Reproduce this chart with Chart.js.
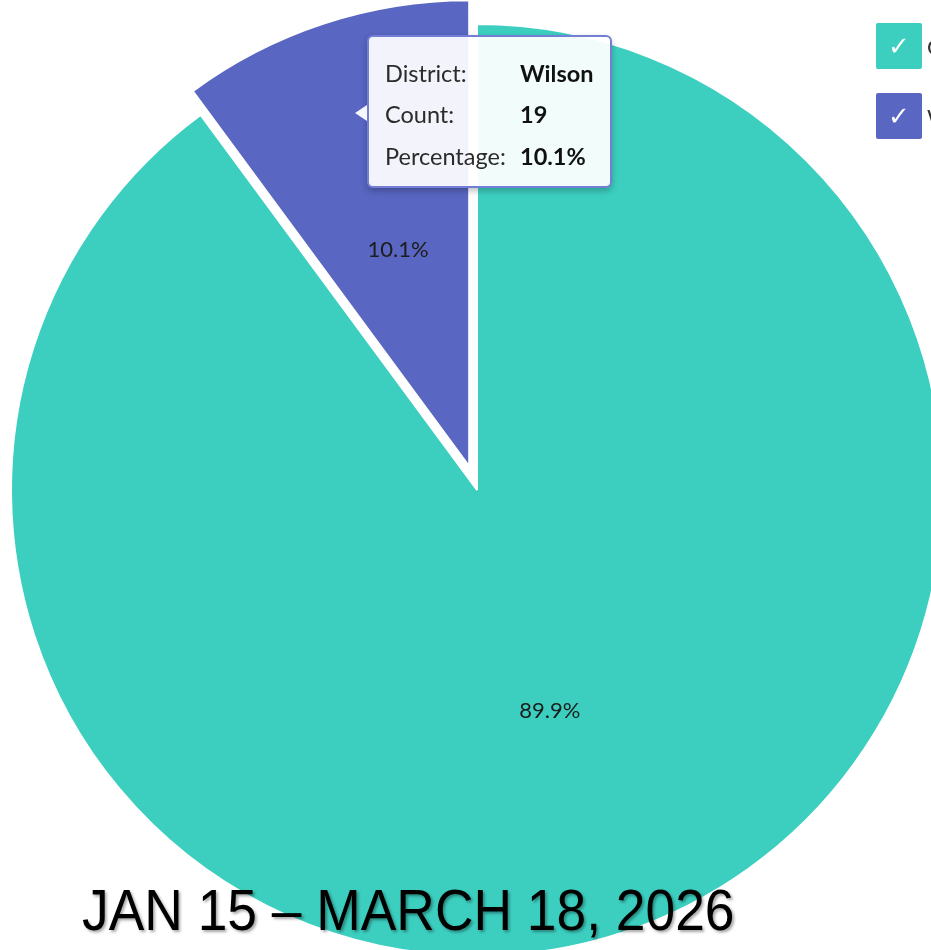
<!DOCTYPE html>
<html>
<head>
<meta charset="utf-8">
<title>District share</title>
<script src="https://cdn.jsdelivr.net/npm/chart.js@4.4.1/dist/chart.umd.min.js"></script>
<style>
  html, body {
    margin: 0;
    padding: 0;
    width: 931px;
    height: 950px;
    overflow: hidden;
    background: #ffffff;
    font-family: Lato, "Open Sans", sans-serif;
  }
  #chartBox {
    position: absolute;
    left: -23px;
    top: -10px;
    width: 1000px;
    height: 1000px;
  }
  #legend {
    position: absolute;
    left: 876px;
    top: 23px;
  }
  .legend-item {
    display: flex;
    align-items: center;
    height: 46px;
    margin-bottom: 24px;
    white-space: nowrap;
  }
  .legend-box {
    width: 46px;
    height: 46px;
    border-radius: 2px;
    color: #ffffff;
    font-family: "DejaVu Sans", sans-serif;
    font-size: 26px;
    line-height: 46px;
    text-align: center;
  }
  .legend-text {
    margin-left: 5px;
    font-size: 22px;
    color: #333333;
  }
  #tip {
    position: absolute;
    box-sizing: border-box;
    width: 245px;
    height: 153px;
    padding: 15px 8px 0 16px;
    background: rgba(255, 255, 255, 0.93);
    border: 2px solid rgba(92, 104, 205, 0.85);
    border-radius: 6px;
    box-shadow: 0 3px 6px rgba(0, 0, 0, 0.25);
    opacity: 0;
    pointer-events: none;
  }
  #tip::before {
    content: '';
    position: absolute;
    left: -14px;
    top: 68px;
    border-top: 8px solid transparent;
    border-bottom: 8px solid transparent;
    border-right: 12px solid rgba(255, 255, 255, 0.95);
  }
  .tip-row {
    display: flex;
    height: 41.5px;
    align-items: center;
    font-size: 23.5px;
  }
  .tip-row span { width: 135px; color: #2b2b2b; }
  .tip-row b { color: #111111; font-weight: 700; }
  #dateRange {
    position: absolute;
    left: 82px;
    top: 881px;
    font-family: "Liberation Sans", Arial, sans-serif;
    font-size: 58px;
    line-height: 58px;
    color: #000000;
    white-space: nowrap;
    transform: scaleX(0.92);
    transform-origin: left top;
    text-shadow: 2px 2px 3px rgba(0, 0, 0, 0.35);
  }
</style>
</head>
<body>
<div id="chartBox"><canvas id="districtPie"></canvas></div>
<div id="legend"></div>
<div id="tip"></div>
<div id="dateRange">JAN 15 – MARCH 18, 2026</div>

<script>
// districts and counts
const districts = ['Other Districts', 'Wilson'];
const counts = [169, 19];
const sliceColors = ['#3CCFC0', '#5966C2'];
const activeDistrict = 1; // the tooltip is open on Wilson, and that slice is pulled out

const total = counts.reduce((a, b) => a + b, 0);
const pct = (v) => (v / total * 100).toFixed(1) + '%';

// tooltip follows the mouse position rather than the slice centre
Chart.registry.getPlugin('tooltip').positioners.cursor = function (elements, eventPosition) {
  return eventPosition;
};

// move one slice outwards without making it bigger (chart.js offset also grows the arc)
const pullSlice = {
  id: 'pullSlice',
  afterDatasetUpdate: (chart, args, opts) => {
    const arc = chart.getDatasetMeta(0).data[opts.index];
    if (!arc || arc._pulled) return;
    const baseDraw = Object.getPrototypeOf(arc).draw;
    arc.draw = function (ctx, area) {
      const mid = (this.startAngle + this.endAngle) / 2;
      ctx.save();
      ctx.translate(Math.cos(mid) * opts.distance, Math.sin(mid) * opts.distance);
      baseDraw.call(this, ctx, area);
      ctx.restore();
    };
    arc._pulled = true;
  }
};

// percentage printed inside each slice
const sliceLabels = {
  id: 'sliceLabels',
  afterDatasetsDraw: (chart) => {
    const {ctx} = chart;
    const meta = chart.getDatasetMeta(0);
    const pull = chart.options.plugins.pullSlice;
    ctx.save();
    ctx.font = '22px Lato';
    ctx.fillStyle = '#1c1c1c';
    ctx.textAlign = 'center';
    ctx.textBaseline = 'middle';
    meta.data.forEach((arc, i) => {
      const {x, y, startAngle, endAngle, outerRadius} = arc.getProps(['x', 'y', 'startAngle', 'endAngle', 'outerRadius'], true);
      const mid = (startAngle + endAngle) / 2;
      // label sits a bit inside the middle of the pulled slice
      const r = outerRadius / 2 + (i === pull.index ? pull.distance * 0.8 : 0);
      ctx.fillText(pct(counts[i]), x + Math.cos(mid) * r, y + Math.sin(mid) * r);
    });
    ctx.restore();
  }
};

function externalTooltip(context) {
  const {chart, tooltip} = context;
  const el = document.getElementById('tip');
  if (tooltip.opacity === 0 || !tooltip.dataPoints || !tooltip.dataPoints.length) {
    el.style.opacity = 0;
    return;
  }
  const dp = tooltip.dataPoints[0];
  el.innerHTML =
    '<div class="tip-row"><span>District:</span><b>' + dp.label + '</b></div>' +
    '<div class="tip-row"><span>Count:</span><b>' + dp.raw + '</b></div>' +
    '<div class="tip-row"><span>Percentage:</span><b>' + pct(dp.raw) + '</b></div>';
  const box = chart.canvas.parentNode;
  el.style.left = (box.offsetLeft + tooltip.caretX + 12) + 'px';
  el.style.top = (box.offsetTop + tooltip.caretY - 78) + 'px';
  el.style.opacity = 1;
}

const ctx = document.getElementById('districtPie').getContext('2d');
const chart = new Chart(ctx, {
  type: 'pie',
  data: {
    labels: districts,
    datasets: [{
      data: counts,
      backgroundColor: sliceColors,
      borderColor: '#ffffff',
      borderWidth: 2,
      offset: 0,
      hoverOffset: 0,
      radius: 466
    }]
  },
  plugins: [pullSlice, sliceLabels],
  options: {
    animation: false,
    responsive: true,
    maintainAspectRatio: false,
    events: [],
    layout: { padding: 0 },
    plugins: {
      legend: { display: false },
      pullSlice: { index: activeDistrict, distance: 25 },
      tooltip: {
        enabled: false,
        position: 'cursor',
        external: externalTooltip
      }
    }
  }
});

// html legend with check boxes, built from the chart data
const legendEl = document.getElementById('legend');
chart.data.labels.forEach((name, i) => {
  const item = document.createElement('div');
  item.className = 'legend-item';
  item.innerHTML = '<div class="legend-box" style="background:' + sliceColors[i] + '">✓</div>' +
    '<div class="legend-text">' + name + '</div>';
  legendEl.appendChild(item);
});

// open the tooltip on Wilson at the pointer spot
chart.tooltip.setActiveElements([{datasetIndex: 0, index: activeDistrict}], {x: 378, y: 123});
chart.update();
</script>
</body>
</html>
